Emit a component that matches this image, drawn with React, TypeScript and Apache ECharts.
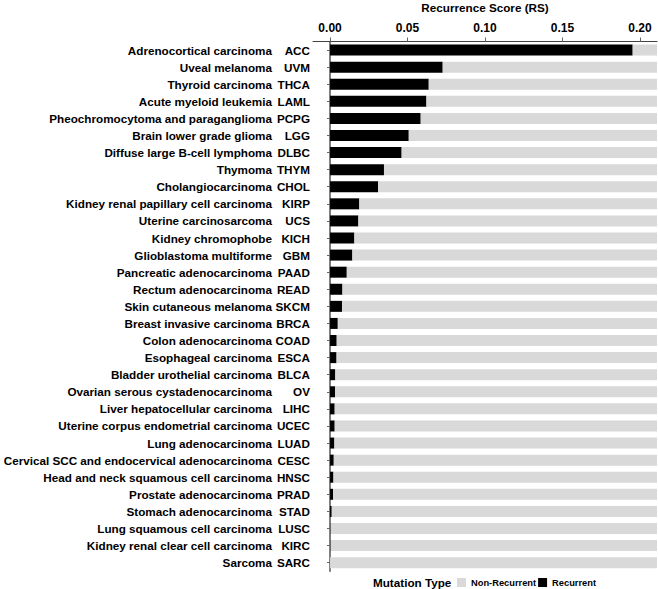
import React, { useEffect, useRef } from "react";
import * as echarts from "echarts";

const cancerNames: string[] = [
  "Adrenocortical carcinoma", "Uveal melanoma", "Thyroid carcinoma", "Acute myeloid leukemia",
  "Pheochromocytoma and paraganglioma", "Brain lower grade glioma", "Diffuse large B-cell lymphoma",
  "Thymoma", "Cholangiocarcinoma", "Kidney renal papillary cell carcinoma", "Uterine carcinosarcoma",
  "Kidney chromophobe", "Glioblastoma multiforme", "Pancreatic adenocarcinoma", "Rectum adenocarcinoma",
  "Skin cutaneous melanoma", "Breast invasive carcinoma", "Colon adenocarcinoma", "Esophageal carcinoma",
  "Bladder urothelial carcinoma", "Ovarian serous cystadenocarcinoma", "Liver hepatocellular carcinoma",
  "Uterine corpus endometrial carcinoma", "Lung adenocarcinoma",
  "Cervical SCC and endocervical adenocarcinoma", "Head and neck squamous cell carcinoma",
  "Prostate adenocarcinoma", "Stomach adenocarcinoma", "Lung squamous cell carcinoma",
  "Kidney renal clear cell carcinoma", "Sarcoma",
];
const cancerCodes: string[] = [
  "ACC", "UVM", "THCA", "LAML", "PCPG", "LGG", "DLBC", "THYM", "CHOL", "KIRP", "UCS", "KICH", "GBM",
  "PAAD", "READ", "SKCM", "BRCA", "COAD", "ESCA", "BLCA", "OV", "LIHC", "UCEC", "LUAD", "CESC",
  "HNSC", "PRAD", "STAD", "LUSC", "KIRC", "SARC",
];
const recurrentScore: number[] = [
  0.1953, 0.0727, 0.0637, 0.0622, 0.0585, 0.0508, 0.0462, 0.0348, 0.0310, 0.0189, 0.0183, 0.0157,
  0.0144, 0.0108, 0.0080, 0.0077, 0.0050, 0.0043, 0.0042, 0.0034, 0.0033, 0.0030, 0.0030, 0.0028,
  0.0024, 0.0022, 0.0020, 0.0011, 0.0004, 0.0004, 0.0,
];
const nonRecurrentScore: number[] = recurrentScore.map((v) => 1 - v);
const xTicks: number[] = [0, 0.05, 0.1, 0.15, 0.2];

const FONT = "'Liberation Sans', Arial, sans-serif";

export default function App() {
  const ref = useRef<HTMLDivElement>(null);
  useEffect(() => {
    if (!ref.current) return;
    const chart = echarts.init(ref.current, null, { renderer: "svg" });
    chart.setOption({
      animation: false,
      textStyle: { fontFamily: FONT },
      grid: {
        left: 313,
        right: 1,
        top: 41.5,
        bottom: 589 - 571.2,
        containLabel: false,
        outerBoundsMode: "none",
      },
      xAxis: {
        type: "value",
        position: "top",
        min: -0.011,
        max: 0.211,
        name: "Recurrence Score (RS)",
        nameLocation: "middle",
        nameGap: 28,
        nameTextStyle: { fontFamily: FONT, fontWeight: "bold", fontSize: 11.7, color: "#000" },
        axisLine: { show: true, lineStyle: { color: "#444", width: 1 } },
        axisTick: { show: true, length: 4, customValues: xTicks, lineStyle: { color: "#666" } },
        axisLabel: {
          customValues: xTicks,
          formatter: (v: number) => v.toFixed(2),
          fontFamily: FONT,
          fontWeight: "bold",
          fontSize: 12,
          color: "#000",
          margin: 8,
        },
        splitLine: { show: false },
      },
      yAxis: [
        {
          type: "category",
          inverse: true,
          data: cancerCodes,
          axisLine: { show: true, lineStyle: { color: "#555", width: 1.5 } },
          axisTick: { show: true, length: 3, alignWithLabel: true, lineStyle: { color: "#666" } },
          axisLabel: { fontFamily: FONT, fontWeight: "bold", fontSize: 11.7, color: "#000", margin: 3 },
        },
        {
          type: "category",
          inverse: true,
          position: "left",
          offset: 0,
          data: cancerNames,
          axisLine: { show: false },
          axisTick: { show: false },
          axisLabel: { fontFamily: FONT, fontWeight: "bold", fontSize: 11.7, color: "#000", margin: 41 },
        },
      ],
      legend: {
        data: ["Non-Recurrent", "Recurrent"],
        left: 457,
        top: 578,
        padding: 0,
        itemWidth: 9,
        itemHeight: 9,
        itemGap: 2,
        icon: "rect",
        textStyle: { fontFamily: FONT, fontWeight: "bold", fontSize: 9.3, color: "#000" },
      },
      graphic: [
        {
          type: "text",
          left: 373,
          top: 576,
          style: { text: "Mutation Type", font: `bold 11.7px ${FONT}`, fill: "#000" },
        },
      ],
      series: [
        {
          name: "Recurrent",
          type: "bar",
          stack: "rs",
          data: recurrentScore,
          barWidth: 11,
          itemStyle: { color: "#000000" },
          clip: true,
        },
        {
          name: "Non-Recurrent",
          type: "bar",
          stack: "rs",
          data: nonRecurrentScore,
          barWidth: 11,
          itemStyle: { color: "#d9d9d9" },
          clip: true,
        },
      ],
    });
    return () => chart.dispose();
  }, []);
  return (
    <div
      ref={ref}
      style={{ position: "fixed", left: 0, top: 0, width: 658, height: 589, background: "#fff" }}
    />
  );
}
